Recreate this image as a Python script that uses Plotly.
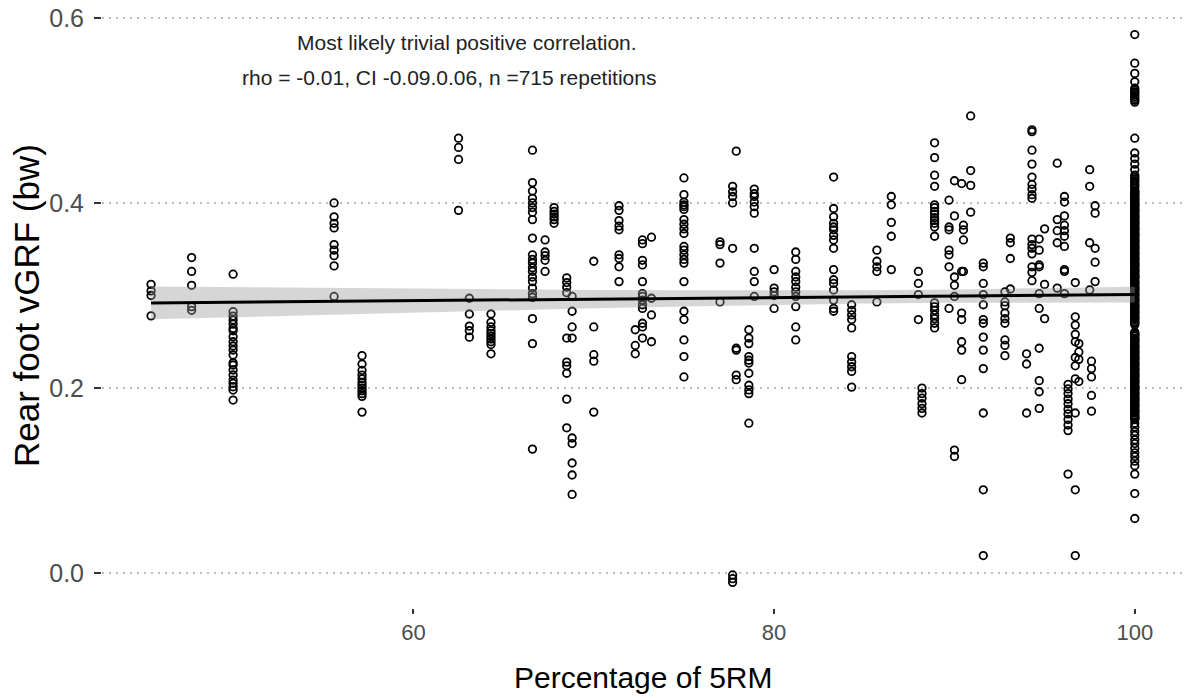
import plotly.graph_objects as go

# ---------------- data ----------------
# each column: percentage of 5RM  ->  rear foot vGRF values (bw)
y_45_5 = [0.312, 0.305, 0.300, 0.278]
y_47_7 = [0.341, 0.326, 0.311, 0.288, 0.284]
y_50_0 = [0.323, 0.2825, 0.2778, 0.2735, 0.2692, 0.2645, 0.2619, 0.2554, 0.250, 0.2454,
          0.2411, 0.2357, 0.2273, 0.2249, 0.2195, 0.2141, 0.2086, 0.2051, 0.2014, 0.1978, 0.187]
y_55_6 = [0.400, 0.385, 0.378, 0.373, 0.355, 0.349, 0.343, 0.332, 0.299]
y_57_2 = [0.235, 0.226, 0.219, 0.214, 0.210, 0.206, 0.203, 0.200, 0.197, 0.194, 0.191, 0.174]
y_62_5 = [0.470, 0.460, 0.447, 0.392]
y_63_1 = [0.297, 0.280, 0.267, 0.262, 0.255]
y_64_3 = [0.280, 0.271, 0.266, 0.262, 0.259, 0.256, 0.253, 0.250, 0.247, 0.237]
y_66_6 = [0.457, 0.422, 0.413, 0.405, 0.400, 0.395, 0.390, 0.382, 0.362, 0.344, 0.339,
          0.335, 0.330, 0.326, 0.320, 0.315, 0.308, 0.302, 0.298, 0.275, 0.248, 0.134]
y_67_3 = [0.360, 0.347, 0.343, 0.338, 0.326]
y_67_8 = [0.395, 0.391, 0.388, 0.385, 0.382, 0.378]
y_68_5 = [0.319, 0.314, 0.309, 0.303, 0.254, 0.228, 0.224, 0.216, 0.188, 0.157]
y_68_8 = [0.299, 0.283, 0.266, 0.254, 0.146, 0.140, 0.119, 0.106, 0.085]
y_70_0 = [0.337, 0.266, 0.236, 0.229, 0.174]
y_71_4 = [0.397, 0.392, 0.381, 0.375, 0.371, 0.344, 0.340, 0.331, 0.315]
y_72_3 = [0.263, 0.246, 0.237]
y_72_7 = [0.360, 0.356, 0.338, 0.333, 0.315, 0.302, 0.299, 0.295, 0.290, 0.286, 0.270, 0.266, 0.254]
y_73_2 = [0.363, 0.297, 0.279, 0.250]
y_75_0 = [0.427, 0.409, 0.401, 0.398, 0.396, 0.393, 0.382, 0.377, 0.372, 0.367, 0.353,
          0.349, 0.344, 0.339, 0.335, 0.315, 0.283, 0.274, 0.252, 0.234, 0.212]
y_77_0 = [0.358, 0.355, 0.335, 0.293]
y_77_7 = [0.418, 0.412, 0.407, 0.400, 0.351, -0.002, -0.006, -0.010]
y_77_9 = [0.456, 0.243, 0.241, 0.214, 0.209]
y_78_6 = [0.263, 0.254, 0.248, 0.234, 0.230, 0.227, 0.216, 0.203, 0.198, 0.194, 0.162]
y_78_9 = [0.415, 0.410, 0.407, 0.401, 0.396, 0.389, 0.351, 0.326, 0.315, 0.299]
y_80_0 = [0.328, 0.308, 0.304, 0.300, 0.286]
y_81_2 = [0.347, 0.339, 0.326, 0.320, 0.315, 0.309, 0.304, 0.299, 0.288, 0.266, 0.252]
y_83_3 = [0.428, 0.394, 0.385, 0.378, 0.374, 0.371, 0.365, 0.360, 0.351, 0.328, 0.317,
          0.313, 0.306, 0.295, 0.286, 0.283]
y_84_3 = [0.290, 0.284, 0.279, 0.274, 0.265, 0.234, 0.228, 0.223, 0.218, 0.201]
y_85_7 = [0.349, 0.337, 0.331, 0.326, 0.293]
y_86_5 = [0.407, 0.398, 0.379, 0.364, 0.328]
y_88_0 = [0.326, 0.313, 0.301, 0.274]
y_88_2 = [0.200, 0.194, 0.189, 0.183, 0.178, 0.173]
y_88_9 = [0.465, 0.449, 0.430, 0.418, 0.398, 0.395, 0.391, 0.388, 0.384, 0.381, 0.378,
          0.374, 0.364, 0.292, 0.288, 0.284, 0.279, 0.275, 0.270, 0.265]
y_89_7 = [0.403, 0.374, 0.371, 0.349, 0.344, 0.331, 0.286]
y_90_0 = [0.424, 0.386, 0.320, 0.311, 0.299, 0.133, 0.126]
y_90_4 = [0.421, 0.326, 0.281, 0.274, 0.250, 0.241, 0.209]
y_90_5 = [0.376, 0.371, 0.360, 0.326]
y_90_9 = [0.494, 0.435, 0.419, 0.390]
y_91_6 = [0.335, 0.331, 0.313, 0.301, 0.290, 0.274, 0.270, 0.255, 0.241, 0.221, 0.173, 0.090, 0.019]
y_92_8 = [0.304, 0.293, 0.289, 0.281, 0.275, 0.270, 0.252, 0.246, 0.235]
y_93_1 = [0.362, 0.357, 0.340, 0.307]
y_94_0 = [0.237, 0.226, 0.173]
y_94_3 = [0.479, 0.477, 0.457, 0.442, 0.428, 0.420, 0.415, 0.409, 0.405, 0.361, 0.355,
          0.351, 0.345, 0.331, 0.325, 0.316]
y_94_7 = [0.361, 0.349, 0.333, 0.331, 0.302, 0.286, 0.243, 0.208, 0.196, 0.178]
y_95_0 = [0.372, 0.312, 0.275]
y_95_7 = [0.443, 0.382, 0.370, 0.357, 0.308]
y_96_1 = [0.407, 0.401, 0.386, 0.376, 0.370, 0.364, 0.353, 0.328, 0.326, 0.302]
y_96_3 = [0.204, 0.199, 0.194, 0.188, 0.183, 0.177, 0.172, 0.166, 0.160, 0.154, 0.107]
y_96_7 = [0.314, 0.277, 0.268, 0.258, 0.250, 0.233, 0.224, 0.210, 0.173, 0.090, 0.019]
y_96_9 = [0.248, 0.239, 0.231, 0.207]
y_97_5 = [0.436, 0.418, 0.357, 0.306]
y_97_6 = [0.229, 0.221, 0.212, 0.192, 0.175]
y_97_8 = [0.397, 0.389, 0.351, 0.336, 0.315]
y_100 = [0.582, 0.551, 0.540, 0.531, 0.524, 0.522, 0.520, 0.519, 0.517, 0.515, 0.513, 0.511, 0.509,
         0.470, 0.454, 0.448, 0.442, 0.436, 0.430, 0.428, 0.426, 0.424, 0.422, 0.420, 0.418, 0.416,
         0.413, 0.412, 0.412, 0.410, 0.409, 0.408, 0.406, 0.405, 0.404, 0.403,
         0.402, 0.400, 0.399, 0.398, 0.397, 0.396, 0.394, 0.393, 0.392, 0.391,
         0.390, 0.389, 0.387, 0.386, 0.385, 0.384, 0.383, 0.381, 0.380, 0.379,
         0.378, 0.377, 0.376, 0.374, 0.373, 0.372, 0.371, 0.370, 0.368, 0.367,
         0.366, 0.365, 0.364, 0.363, 0.361, 0.360, 0.359, 0.358, 0.357, 0.355,
         0.354, 0.353, 0.352, 0.351, 0.350, 0.348, 0.347, 0.346, 0.345, 0.344,
         0.342, 0.341, 0.340, 0.339, 0.338, 0.336, 0.335, 0.334, 0.333, 0.332,
         0.331, 0.329, 0.328, 0.327, 0.326, 0.325, 0.323, 0.322, 0.321, 0.320,
         0.319, 0.318, 0.316, 0.315, 0.314, 0.313, 0.312, 0.310, 0.309, 0.308,
         0.307, 0.306, 0.305, 0.303, 0.302, 0.301, 0.300, 0.299, 0.297, 0.296,
         0.295, 0.294, 0.293, 0.291, 0.290, 0.289, 0.288, 0.287, 0.286, 0.284,
         0.283, 0.282, 0.281, 0.280, 0.278, 0.277, 0.276, 0.275, 0.274, 0.272,
         0.271, 0.270, 0.2685, 0.2605, 0.259, 0.258, 0.257, 0.256, 0.254, 0.253,
         0.252, 0.251, 0.250, 0.249, 0.247, 0.246, 0.245, 0.244, 0.243, 0.241,
         0.240, 0.239, 0.238, 0.237, 0.235, 0.234, 0.233, 0.232, 0.231, 0.230,
         0.228, 0.227, 0.226, 0.225, 0.224, 0.222, 0.221, 0.220, 0.219, 0.218,
         0.216, 0.215, 0.214, 0.213, 0.212, 0.211, 0.209, 0.208, 0.207, 0.206,
         0.205, 0.203, 0.202, 0.201, 0.200, 0.199, 0.198, 0.196, 0.195, 0.194,
         0.193, 0.192, 0.190, 0.189, 0.188, 0.187, 0.186, 0.185, 0.183, 0.182,
         0.181, 0.180, 0.179, 0.177, 0.176, 0.175, 0.174, 0.173, 0.171, 0.170,
         0.169, 0.168, 0.167, 0.166,
         0.162, 0.158, 0.153, 0.149, 0.144, 0.140, 0.135, 0.130, 0.126, 0.121,
         0.116, 0.107, 0.086, 0.059]

columns = [
    (45.45, y_45_5), (47.7, y_47_7), (50.0, y_50_0), (55.6, y_55_6), (57.15, y_57_2),
    (62.5, y_62_5), (63.1, y_63_1), (64.3, y_64_3), (66.6, y_66_6), (67.3, y_67_3),
    (67.8, y_67_8), (68.5, y_68_5), (68.8, y_68_8), (70.0, y_70_0), (71.4, y_71_4),
    (72.3, y_72_3), (72.7, y_72_7), (73.2, y_73_2), (75.0, y_75_0), (77.0, y_77_0),
    (77.7, y_77_7), (77.9, y_77_9), (78.6, y_78_6), (78.9, y_78_9), (80.0, y_80_0),
    (81.2, y_81_2), (83.3, y_83_3), (84.3, y_84_3), (85.7, y_85_7), (86.5, y_86_5),
    (88.0, y_88_0), (88.2, y_88_2), (88.9, y_88_9), (89.7, y_89_7), (90.0, y_90_0),
    (90.4, y_90_4), (90.5, y_90_5), (90.9, y_90_9), (91.6, y_91_6), (92.8, y_92_8),
    (93.1, y_93_1), (94.0, y_94_0), (94.3, y_94_3), (94.7, y_94_7), (95.0, y_95_0),
    (95.7, y_95_7), (96.1, y_96_1), (96.3, y_96_3), (96.7, y_96_7), (96.9, y_96_9),
    (97.5, y_97_5), (97.6, y_97_6), (97.8, y_97_8), (100.0, y_100),
]

# linear fit and its confidence band
fit_x = [45.45, 100.0]
fit_y = [0.292, 0.301]
band_x = [45.45, 55, 60, 65, 70, 75, 80, 85, 90, 95, 100]
band_lo = [0.2742, 0.2791, 0.2815, 0.2839, 0.2862, 0.2882, 0.2899, 0.2913, 0.2921, 0.2926, 0.2925]
band_hi = [0.3098, 0.3081, 0.3073, 0.3066, 0.3060, 0.3056, 0.3055, 0.3057, 0.3065, 0.3078, 0.3095]

x_ticks = [60, 80, 100]
y_ticks = [0.0, 0.2, 0.4, 0.6]
y_tick_text = ["0.0", "0.2", "0.4", "0.6"]

note_line1 = "Most likely trivial positive correlation."
note_line2 = "rho = -0.01, CI -0.09.0.06, n =715 repetitions"

# ---------------- figure ----------------
px_x, px_y = [], []
for xv, ys in columns:
    for yv in ys:
        px_x.append(xv)
        px_y.append(yv)

FONT = "Liberation Sans, Arial, sans-serif"

fig = go.Figure()
fig.add_trace(go.Scatter(
    x=px_x, y=px_y, mode="markers",
    marker=dict(symbol="circle-open", size=7.5, color="black", line=dict(width=1.8, color="black")),
    hoverinfo="skip", showlegend=False))

fig.add_trace(go.Scatter(
    x=band_x + band_x[::-1], y=band_hi + band_lo[::-1],
    fill="toself", fillcolor="rgba(153,153,153,0.4)", line=dict(width=0),
    mode="lines", hoverinfo="skip", showlegend=False))

fig.add_trace(go.Scatter(
    x=fit_x, y=fit_y, mode="lines", line=dict(color="black", width=3),
    hoverinfo="skip", showlegend=False))

fig.update_layout(
    width=1184, height=698,
    margin=dict(l=102, r=0, t=4, b=90),
    paper_bgcolor="white", plot_bgcolor="white",
    font=dict(family=FONT, color="black"),
    showlegend=False,
    xaxis=dict(range=[42.73, 102.73], tickvals=x_ticks, ticks="outside", ticklen=5,
               tickwidth=1.5, tickcolor="#333333", showgrid=False, zeroline=False,
               showline=False, tickfont=dict(size=22, color="#4D4D4D", family=FONT)),
    yaxis=dict(range=[-0.0377, 0.615], tickvals=y_ticks, ticktext=y_tick_text,
               ticks="outside", ticklen=7, tickwidth=2, tickcolor="#333333",
               ticklabelstandoff=5,
               showgrid=True, gridcolor="#BDBDBD", gridwidth=1.5, griddash="2px,5px",
               zeroline=False, showline=False,
               tickfont=dict(size=25, color="#4D4D4D", family=FONT)),
    annotations=[
        dict(text=note_line1, x=62.98, y=0.573, xref="x", yref="y", showarrow=False,
             font=dict(size=21, color="#222222", family=FONT)),
        dict(text=note_line2, x=61.98, y=0.536, xref="x", yref="y", showarrow=False,
             font=dict(size=21, color="#222222", family=FONT)),
        dict(text="Percentage of 5RM", x=0.5, y=0, xref="paper", yref="paper",
             yanchor="middle", yshift=-69, showarrow=False,
             font=dict(size=30, color="black", family=FONT)),
        dict(text="Rear foot vGRF (bw)", x=0, y=0.5, xref="paper", yref="paper",
             xanchor="center", yanchor="middle", xshift=-76, textangle=-90, showarrow=False,
             font=dict(size=35, color="black", family=FONT)),
    ],
)

fig.write_html("out.html")
